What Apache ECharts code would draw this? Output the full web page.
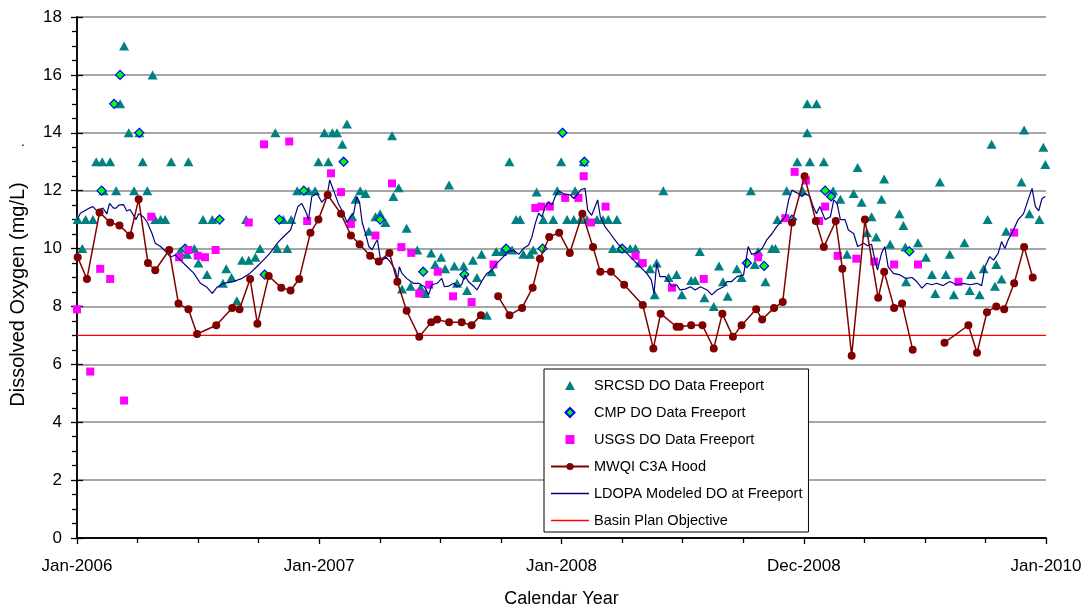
<!DOCTYPE html>
<html>
<head>
<meta charset="utf-8">
<script src="https://cdn.jsdelivr.net/npm/echarts@6/dist/echarts.min.js"></script>
<style>
html,body{margin:0;padding:0;background:#fff;}
#chart{width:1086px;height:605px;}
</style>
</head>
<body>
<div id="chart"></div>
<script>
// x values: days since 2006-01-01
const xTickLabels = ['Jan-2006','Jan-2007','Jan-2008','Dec-2008','Jan-2010'];
const yTickMax = 18;

const srcsdDay = [1,8,13,24,29,38,40,50,59,65,71,78,86,94,99,106,114,118,126,133,142,155,166,168,177,183,190,196,204,220,225,233,241,249,255,259,269,276,299,302,311,317,323,332,349,359,364,373,379,385,392,400,407,415,420,427,435,440,450,457,465,475,477,485,490,497,503,513,518,525,534,540,549,555,561,569,573,583,588,597,603,610,618,625,632,641,652,656,662,668,673,683,688,693,703,718,724,730,739,749,751,759,764,769,784,793,801,808,814,819,834,842,848,864,871,874,884,892,904,912,926,932,939,946,960,968,974,981,995,1002,1016,1022,1027,1038,1048,1053,1056,1070,1086,1094,1101,1101,1105,1115,1126,1140,1151,1161,1171,1177,1183,1191,1198,1205,1213,1217,1226,1240,1246,1249,1250,1268,1280,1289,1294,1301,1310,1316,1322,1338,1346,1348,1361,1367,1373,1379,1384,1386,1394,1401,1424,1428,1436,1451,1457,1460];
const srcsdDO = [11.0,10.0,11.0,11.0,13.0,13.0,12.0,13.0,12.0,15.0,17.0,14.0,12.0,14.0,13.0,12.0,16.0,11.0,11.0,11.0,13.0,9.9,9.8,13.0,10.0,9.5,11.0,9.1,11.0,8.8,9.3,9.0,8.2,9.6,11.0,9.6,9.7,10.0,14.0,10.0,11.0,10.0,11.0,12.0,12.0,12.0,13.0,14.0,13.0,14.0,14.0,13.6,14.3,11.1,11.7,12.0,11.9,10.6,11.1,11.2,10.9,13.9,11.8,12.1,8.6,10.7,8.7,9.95,8.65,8.45,9.85,9.45,9.7,9.3,12.2,9.4,8.8,9.4,8.55,9.6,9.0,9.8,7.7,9.2,9.9,9.9,13.0,9.95,11.0,11.0,9.8,9.8,9.95,11.95,11.0,11.0,12.0,13.0,11.0,11.0,12.0,11.0,13.0,11.0,11.0,11.0,11.0,10.0,11.0,10.0,10.0,10.0,9.5,9.3,8.4,9.5,12.0,9.0,9.1,8.4,8.9,8.9,9.9,8.3,8.0,9.4,8.85,8.35,9.3,9.0,12.0,9.45,9.9,8.85,10.0,10.0,11.0,12.0,13.0,12.0,15.0,14.0,13.0,15.0,13.0,12.0,11.7,9.8,11.9,12.8,11.6,10.55,11.1,10.4,11.7,12.4,10.15,11.2,10.8,10.05,8.85,10.2,9.7,9.1,8.45,12.3,9.1,9.8,8.4,10.2,8.55,9.1,8.4,9.3,11.0,13.6,8.7,9.45,8.95,10.6,12.3,14.1,11.2,11.0,13.5,12.9];

const cmpDay = [37,56,65,94,163,215,283,305,342,402,457,522,584,647,702,732,765,822,1010,1036,1078,1128,1137,1255];
const cmpDO = [12.0,15.0,16.0,14.0,10.0,11.0,9.1,11.0,12.0,13.0,11.0,9.2,9.1,10.0,10.0,14.0,13.0,10.0,9.5,9.4,11.0,12.0,11.8,9.9];

const usgsDay = [0,20,35,50,71,112,154,168,182,193,209,259,282,320,347,383,398,413,450,475,489,504,516,531,544,567,595,628,691,700,713,736,756,764,775,797,842,853,897,945,1027,1068,1082,1099,1119,1128,1147,1175,1202,1232,1268,1329,1413];
const usgsDO = [7.9,5.75,9.3,8.95,4.75,11.1,9.7,9.95,9.75,9.7,9.95,10.9,13.6,13.7,10.95,12.6,11.95,10.85,10.45,12.25,10.05,9.85,8.45,8.75,9.2,8.35,8.15,9.45,11.4,11.45,11.45,11.75,11.75,12.5,10.9,11.45,9.75,9.5,8.65,8.95,9.7,11.05,12.65,12.35,10.95,11.45,9.75,9.65,9.55,9.45,9.45,8.85,10.55];

// null entries mark gaps in the MWQI record
const mwqiDay = [1,15,34,50,64,80,93,107,118,139,153,168,181,210,234,245,261,272,289,308,322,335,352,364,378,398,413,426,442,455,471,483,497,516,534,543,561,580,595,609,null,635,652,671,687,698,712,727,743,762,778,789,805,825,853,869,880,904,909,926,943,960,973,989,1002,1024,1033,1051,1064,1078,1097,1114,1126,1144,1154,1168,1188,1208,1217,1232,1244,1260,null,1308,1344,1357,1372,1386,1398,1413,1428,1441];
const mwqiDO = [9.7,8.95,11.25,10.9,10.8,10.45,11.7,9.5,9.25,9.95,8.1,7.9,7.05,7.35,7.95,7.9,8.95,7.4,9.05,8.65,8.55,8.95,10.55,11.0,11.85,11.2,10.45,10.15,9.75,9.55,9.85,8.85,7.85,6.95,7.45,7.55,7.45,7.45,7.35,7.7,null,8.35,7.7,7.95,8.65,9.65,10.4,10.55,9.85,11.2,10.05,9.2,9.2,8.75,8.05,6.55,7.75,7.3,7.3,7.35,7.35,6.55,7.75,6.95,7.35,7.9,7.55,7.95,8.15,10.9,12.5,10.95,10.05,10.95,9.3,6.3,11.0,8.3,9.2,7.95,8.1,6.5,null,6.75,7.35,6.4,7.8,8.0,7.9,8.8,10.05,9.0];

const ldopaDay = [0,5,18,24,30,39,45,49,55,59,63,70,75,80,89,93,100,106,113,118,126,136,141,148,156,166,176,186,196,204,211,221,236,249,261,271,281,291,304,311,322,327,333,339,346,349,354,362,369,377,381,387,394,402,407,412,417,422,426,430,435,440,445,450,453,457,461,466,472,480,483,486,490,497,507,515,524,530,535,543,550,554,560,568,573,580,585,590,598,603,611,618,626,633,643,651,658,666,673,681,686,691,696,701,706,711,716,721,726,733,744,749,754,760,766,770,776,785,789,796,804,811,819,829,839,849,859,866,870,874,879,887,892,897,904,909,917,925,932,940,950,957,965,975,980,987,995,1005,1012,1017,1025,1033,1040,1048,1055,1060,1068,1073,1078,1083,1088,1093,1098,1105,1110,1115,1120,1128,1136,1141,1146,1151,1158,1163,1171,1177,1186,1192,1198,1203,1207,1213,1218,1223,1231,1241,1249,1259,1266,1274,1281,1289,1296,1306,1316,1326,1336,1347,1357,1364,1369,1376,1382,1389,1394,1399,1404,1412,1419,1427,1434,1440,1445,1450,1455,1460];
const ldopaDO = [10.99,11.22,11.39,11.45,11.3,11.4,11.2,11.56,11.4,11.4,11.5,11.52,11.3,11.35,11.0,11.2,11.1,10.9,10.53,10.18,10.07,9.84,9.7,9.78,9.6,9.37,9.15,8.8,8.66,8.45,8.66,8.8,8.86,8.97,9.15,9.37,9.6,9.84,10.24,10.4,10.64,11.0,11.45,11.56,11.22,11.0,11.8,11.9,11.6,11.8,12.37,12.0,11.56,11.2,10.9,11.1,11.2,11.8,11.6,10.9,10.52,10.07,9.96,10.2,10.3,9.7,9.6,9.7,9.55,9.26,8.91,9.37,9.14,8.97,8.8,8.8,8.68,8.4,8.75,8.8,8.97,8.68,8.7,8.8,8.68,8.75,9.09,8.86,8.7,8.57,8.9,9.14,9.26,9.49,9.72,9.9,9.95,9.8,10.0,10.12,10.41,10.87,11.22,11.1,11.45,11.62,11.5,11.79,12.0,11.9,11.85,11.73,11.85,12.04,12.08,11.33,11.15,11.68,11.1,10.76,10.52,10.3,10.07,9.84,9.6,9.37,9.14,8.91,8.45,9.49,9.03,9.03,8.86,8.68,8.75,8.57,8.6,8.68,8.57,8.68,8.57,8.4,8.57,8.68,8.86,8.86,9.03,9.09,10.07,9.8,9.85,10.0,10.3,10.52,10.76,10.9,11.1,11.68,12.02,11.95,11.9,11.8,11.9,11.8,11.45,11.2,11.45,11.0,11.1,11.68,11.56,11.0,11.0,10.64,10.52,10.07,10.18,10.1,10.15,9.6,9.26,9.84,10.07,9.37,9.14,9.09,8.97,9.0,8.86,8.63,8.8,8.75,8.8,8.72,8.86,8.75,8.8,8.75,8.8,8.72,9.37,9.72,9.6,9.84,10.24,10.0,10.3,10.64,11.0,11.2,11.68,12.08,11.45,11.3,11.73,11.8];

const basinDay = [0, 1461];
const basinDO = [7, 7];

function pairs(xs, ys) { return xs.map((x, i) => [x, ys[i]]); }

const FONT = "'Liberation Sans', Arial, sans-serif";
const chart = echarts.init(document.getElementById('chart'), null, {renderer: 'canvas'});
const xMax = 1461, xInt = 365.25;
const LINE_ICON = 'path://M0,0L38,0L38,1.4L0,1.4Z';

chart.setOption({
  animation: false,
  backgroundColor: '#fff',
  textStyle: {fontFamily: FONT},
  graphic: [{type: 'text', left: 21, top: 135, style: {text: '.', font: '14px ' + FONT, fill: '#000'}}],
  grid: {left: 77, right: 40, top: 17, bottom: 67, containLabel: false, outerBoundsMode: 'none'},
  legend: {
    orient: 'vertical', left: 544, top: 369,
    padding: [9, 6, 4, 6],
    itemWidth: 38, itemHeight: 9, itemGap: 12,
    backgroundColor: '#fff', borderColor: '#000', borderWidth: 1, borderRadius: 0,
    textStyle: {fontSize: 14.5, color: '#000', fontFamily: FONT},
    data: [
      {name: 'SRCSD DO Data Freeport', icon: 'path://M5,0L10,9L0,9Z'},
      {name: 'CMP DO Data Freeport', icon: 'path://M4,0L8,4L4,8L0,4Z'},
      {name: 'USGS DO Data Freeport', icon: 'path://M0,0L8,0L8,8L0,8Z'},
      {name: 'MWQI C3A Hood'},
      {name: 'LDOPA Modeled DO at Freeport', icon: LINE_ICON},
      {name: 'Basin Plan Objective', icon: LINE_ICON}
    ]
  },
  xAxis: [{
    type: 'value', position: 'bottom', min: 0, max: xMax, interval: xInt,
    name: 'Calendar Year', nameLocation: 'middle', nameGap: 52,
    nameTextStyle: {fontSize: 18, color: '#000', fontFamily: FONT},
    axisLine: {show: true, lineStyle: {color: '#000', width: 1.5}},
    axisTick: {show: true, length: 6, lineStyle: {color: '#000', width: 1.3}},
    minorTick: {show: true, splitNumber: 4, length: 5, lineStyle: {color: '#000', width: 1.3}},
    splitLine: {show: false},
    axisLabel: {show: true, fontSize: 17, color: '#000', margin: 20, fontFamily: FONT,
      showMinLabel: true, showMaxLabel: true,
      formatter: v => xTickLabels[Math.round(v / xInt)] || ''}
  }, {
    type: 'value', position: 'top', min: 0, max: xMax,
    axisLine: {show: true, lineStyle: {color: '#000', width: 1.5}},
    axisTick: {show: false}, axisLabel: {show: false}, splitLine: {show: false}
  }],
  yAxis: [{
    type: 'value', position: 'left', min: 0, max: yTickMax, interval: 2,
    name: 'Dissolved Oxygen (mg/L)', nameLocation: 'middle', nameGap: 49,
    nameTextStyle: {fontSize: 20, color: '#000', fontFamily: FONT, padding: [0, 34, 0, 0]},
    axisLine: {show: true, lineStyle: {color: '#000', width: 1.5}},
    axisTick: {show: true, length: 6, lineStyle: {color: '#000', width: 1.3}},
    minorTick: {show: true, splitNumber: 4, length: 5, lineStyle: {color: '#000', width: 1.3}},
    splitLine: {show: true, lineStyle: {color: '#888', width: 1.5}},
    axisLabel: {fontSize: 17, color: '#000', margin: 15, fontFamily: FONT}
  }, {
    type: 'value', position: 'right', min: 0, max: yTickMax, interval: 2,
    axisLine: {show: true, lineStyle: {color: '#000', width: 1.5}},
    axisTick: {show: true, length: 6, lineStyle: {color: '#000', width: 1.3}},
    axisLabel: {show: false}, splitLine: {show: false}
  }],
  series: [
    {name: 'SRCSD DO Data Freeport', type: 'scatter', z: 2,
     symbol: 'triangle', symbolSize: [10, 9],
     itemStyle: {color: '#008080', opacity: 1},
     data: pairs(srcsdDay, srcsdDO)},
    {name: 'CMP DO Data Freeport', type: 'scatter', z: 3,
     symbol: 'diamond', symbolSize: 9,
     itemStyle: {color: '#00ff00', borderColor: '#0000ff', borderWidth: 1.2, opacity: 1},
     data: pairs(cmpDay, cmpDO)},
    {name: 'USGS DO Data Freeport', type: 'scatter', z: 4,
     symbol: 'rect', symbolSize: 8,
     itemStyle: {color: '#ff00ff', opacity: 1},
     data: pairs(usgsDay, usgsDO)},
    {name: 'MWQI C3A Hood', type: 'line', z: 7,
     symbol: 'circle', symbolSize: 8, showSymbol: true, connectNulls: false,
     lineStyle: {color: '#800000', width: 1.5},
     itemStyle: {color: '#800000'},
     data: pairs(mwqiDay, mwqiDO)},
    {name: 'LDOPA Modeled DO at Freeport', type: 'line', z: 6,
     symbol: 'none', showSymbol: false,
     lineStyle: {color: '#000080', width: 1.2},
     itemStyle: {color: '#000080'},
     data: pairs(ldopaDay, ldopaDO)},
    {name: 'Basin Plan Objective', type: 'line', z: 5,
     symbol: 'none', showSymbol: false,
     lineStyle: {color: '#ff0000', width: 1.2},
     itemStyle: {color: '#ff0000'},
     data: pairs(basinDay, basinDO)}
  ]
});
</script>
</body>
</html>
